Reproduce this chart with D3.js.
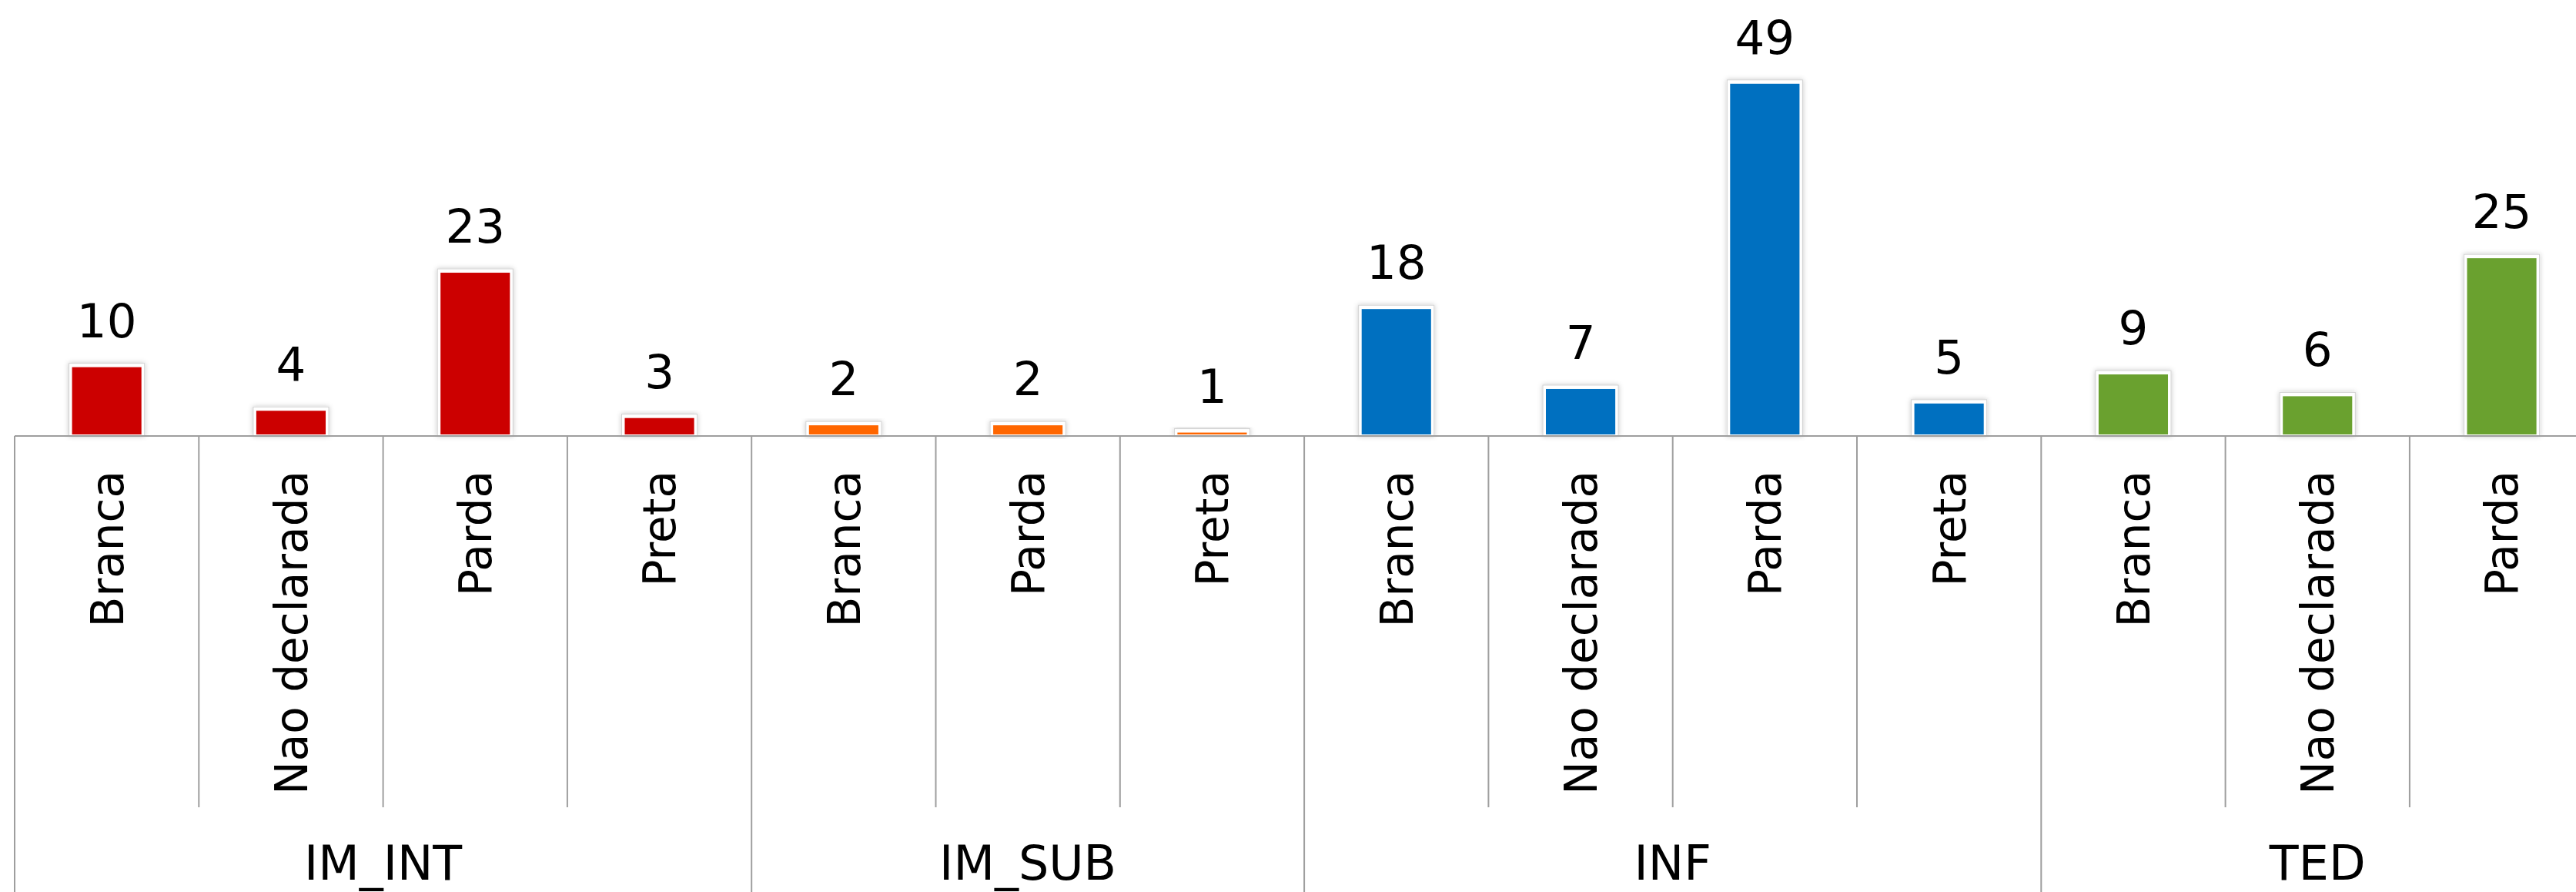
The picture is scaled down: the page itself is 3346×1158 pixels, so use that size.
<!DOCTYPE html>
<html>
<head>
<meta charset="utf-8">
<script src="https://cdn.jsdelivr.net/npm/d3@7"></script>
<style>
  html, body { margin: 0; padding: 0; background: #fff; overflow: hidden; }
  text { font-family: "DejaVu Sans", Verdana, sans-serif; fill: #000; }
</style>
</head>
<body>
<div id="chart"></div>
<script>
// data, one list per group
const groups = ["IM_INT", "IM_SUB", "INF", "TED"];
const groupCategories = [
  ["Branca", "Nao declarada", "Parda", "Preta"],
  ["Branca", "Parda", "Preta"],
  ["Branca", "Nao declarada", "Parda", "Preta"],
  ["Branca", "Nao declarada", "Parda"]
];
const groupValues = [
  [10, 4, 23, 3],
  [2, 2, 1],
  [18, 7, 49, 5],
  [9, 6, 25]
];
const groupColors = ["#cc0000", "#ff6600", "#0070c0", "#6aa12f"];

const width = 3346, height = 1158;
const left = 19, step = 239.3;
const baseY = 566;        // category axis line
const innerBottom = 1048; // end of the short separators

// flatten into rows
const rows = [];
groups.forEach((g, gi) => {
  groupCategories[gi].forEach((c, ci) => {
    rows.push({ group: g, gi: gi, cat: c, value: groupValues[gi][ci], first: ci === 0 });
  });
});

const svg = d3.select("#chart").append("svg")
  .attr("width", width)
  .attr("height", height);

const defs = svg.append("defs");
defs.append("filter").attr("id", "shadow")
  .attr("x", "-20%").attr("y", "-20%").attr("width", "140%").attr("height", "140%")
  .append("feDropShadow")
  .attr("dx", 0).attr("dy", 0).attr("stdDeviation", 3)
  .attr("flood-color", "#000").attr("flood-opacity", 0.22);

const x = d3.scaleBand()
  .domain(d3.range(rows.length))
  .range([left, left + rows.length * step])
  .paddingInner(0.59)
  .paddingOuter(0.295);

const y = d3.scaleLinear().domain([0, 60]).range([baseY, 0]);

// bars: white frame with shadow, coloured fill inside
const bar = svg.append("g").selectAll("g")
  .data(rows)
  .join("g");

bar.append("rect")
  .attr("x", (d, i) => x(i))
  .attr("y", d => y(d.value))
  .attr("width", x.bandwidth())
  .attr("height", d => baseY - y(d.value))
  .attr("fill", "#fff")
  .attr("stroke", "#d2d2d2")
  .attr("stroke-width", 1)
  .attr("filter", "url(#shadow)");

bar.append("rect")
  .attr("x", (d, i) => x(i) + 4)
  .attr("y", d => y(d.value) + 5)
  .attr("width", x.bandwidth() - 8)
  .attr("height", d => Math.max(1, baseY - y(d.value) - 7))
  .attr("fill", d => groupColors[d.gi]);

// value labels
svg.append("g").selectAll("text")
  .data(rows)
  .join("text")
  .attr("x", (d, i) => x(i) + x.bandwidth() / 2)
  .attr("y", d => y(d.value) - 34)
  .attr("text-anchor", "middle")
  .attr("font-size", 61)
  .text(d => d.value);

// axis lines
const axis = svg.append("g")
  .attr("stroke", "#9e9e9e")
  .attr("stroke-width", 2);

axis.append("line")
  .attr("x1", left).attr("x2", left + rows.length * step + 20)
  .attr("y1", baseY).attr("y2", baseY);

// separators between categories: long ones at group starts
axis.selectAll("line.sep")
  .data(rows.map((d, i) => ({ i: i, first: d.first })).concat([{ i: rows.length, first: true }]))
  .join("line")
  .attr("class", "sep")
  .attr("x1", d => left + d.i * step)
  .attr("x2", d => left + d.i * step)
  .attr("y1", baseY)
  .attr("y2", d => d.first ? height : innerBottom);

// category labels (rotated)
svg.append("g").selectAll("text")
  .data(rows)
  .join("text")
  .attr("transform", (d, i) => `translate(${x(i) + x.bandwidth() / 2},611) rotate(-90)`)
  .attr("text-anchor", "end")
  .attr("dy", "0.36em")
  .attr("font-size", 58)
  .text(d => d.cat);

// group labels
let start = 0;
const groupSpans = groups.map((g, gi) => {
  const n = groupCategories[gi].length;
  const s = { name: g, from: start, to: start + n };
  start += n;
  return s;
});

svg.append("g").selectAll("text")
  .data(groupSpans)
  .join("text")
  .attr("x", d => left + (d.from + d.to) / 2 * step)
  .attr("y", 1142)
  .attr("text-anchor", "middle")
  .attr("font-size", 62)
  .text(d => d.name);
</script>
</body>
</html>
